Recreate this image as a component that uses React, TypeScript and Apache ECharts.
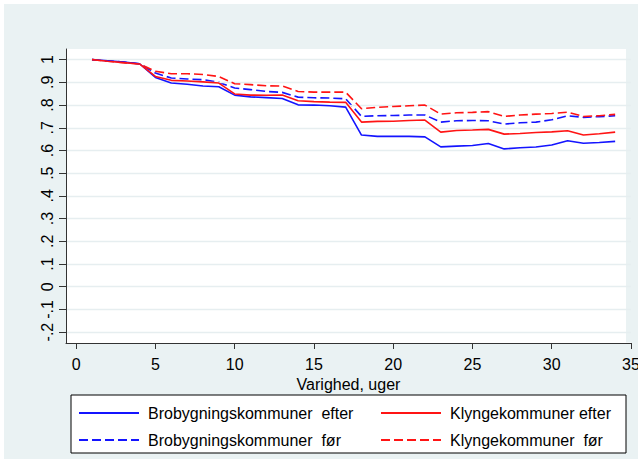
import React, { useEffect, useRef } from "react";
import * as echarts from "echarts";

const weeks = [1,2,3,4,5,6,7,8,9,10,11,12,13,14,15,16,17,18,19,20,21,22,23,24,25,26,27,28,29,30,31,32,33,34];

const broEfter = [1.0,0.995,0.989,0.982,0.922,0.897,0.892,0.884,0.881,0.844,0.836,0.833,0.829,0.801,0.800,0.797,0.791,0.668,0.662,0.662,0.662,0.660,0.616,0.619,0.622,0.631,0.607,0.612,0.615,0.624,0.643,0.632,0.635,0.640];
const klyEfter = [1.0,0.993,0.987,0.981,0.926,0.909,0.906,0.902,0.897,0.849,0.844,0.843,0.844,0.819,0.815,0.813,0.812,0.725,0.728,0.729,0.732,0.734,0.681,0.688,0.690,0.693,0.672,0.675,0.679,0.682,0.687,0.668,0.674,0.681];
const broFoer = [1.0,0.995,0.989,0.982,0.941,0.919,0.915,0.912,0.900,0.875,0.868,0.860,0.856,0.835,0.832,0.831,0.828,0.750,0.753,0.754,0.756,0.756,0.725,0.731,0.732,0.731,0.716,0.722,0.725,0.735,0.753,0.746,0.749,0.753];
const klyFoer = [1.0,0.993,0.987,0.981,0.949,0.938,0.938,0.935,0.926,0.894,0.890,0.885,0.884,0.860,0.857,0.857,0.857,0.784,0.790,0.794,0.797,0.800,0.760,0.766,0.768,0.771,0.750,0.756,0.760,0.763,0.769,0.750,0.753,0.759];

const yTicks = [-0.2,-0.1,0,0.1,0.2,0.3,0.4,0.5,0.6,0.7,0.8,0.9,1];
const xTicks = [0,5,10,15,20,25,30,35];

const names = [
  "Brobygningskommuner  efter",
  "Klyngekommuner efter",
  "Brobygningskommuner  før",
  "Klyngekommuner  før",
];

const FONT = "'Liberation Sans', Arial, sans-serif";
const BG = "#eaf2f3";

function fmtY(v: number): string {
  const r = Math.round(v * 10) / 10;
  if (r === 0) return "0";
  if (r === 1) return "1";
  const s = Math.abs(r).toFixed(1).replace(/^0/, "");
  return (r < 0 ? "-" : "") + s;
}

export default function App() {
  const ref = useRef<HTMLDivElement>(null);
  useEffect(() => {
    if (!ref.current) return;
    const chart = echarts.init(ref.current, undefined, { renderer: "svg" });
    const mk = (arr: number[]) => weeks.map((w, i) => [w, arr[i]]);
    const lineSeries = (name: string, arr: number[], color: string, dashed: boolean, z: number) => ({
      name,
      type: "line",
      data: mk(arr),
      symbol: "none",
      z,
      lineStyle: { color, width: 1.6, type: dashed ? [9, 4] : "solid" },
      itemStyle: { color },
    });
    const legendBase = {
      orient: "vertical",
      top: 401,
      padding: 0,
      itemWidth: 60,
      itemHeight: 16,
      itemGap: 11,
      z: 5,
      itemStyle: { opacity: 0 },
      textStyle: { fontSize: 16, color: "#000", fontFamily: FONT, padding: [0, 0, 0, 4] },
    };
    chart.setOption({
      animation: false,
      backgroundColor: BG,
      textStyle: { fontFamily: FONT },
      grid: {
        left: 62,
        top: 45,
        right: 7,
        bottom: 116,
        outerBoundsMode: "none",
        containLabel: false,
        show: true,
        backgroundColor: "#ffffff",
        borderWidth: 0,
      },
      xAxis: {
        type: "value",
        min: -0.64,
        max: 35,
        z: 3,
        name: "Varighed, uger",
        nameLocation: "middle",
        nameGap: 30,
        nameTextStyle: { fontSize: 16, color: "#000", fontFamily: FONT },
        axisLine: { onZero: false, lineStyle: { color: "#333", width: 1 } },
        axisTick: { show: true, length: 6, customValues: xTicks, lineStyle: { color: "#333" } },
        axisLabel: { customValues: xTicks, fontSize: 16, color: "#000", margin: 13, fontFamily: FONT },
        splitLine: { show: false },
      },
      yAxis: {
        type: "value",
        min: -0.248,
        max: 1.047,
        z: 3,
        axisLine: { show: true, onZero: false, lineStyle: { color: "#333", width: 1 } },
        axisTick: { show: true, length: 7, customValues: yTicks, lineStyle: { color: "#333" } },
        axisLabel: {
          customValues: yTicks,
          rotate: 90,
          fontSize: 16,
          color: "#000",
          margin: 11,
          fontFamily: FONT,
          formatter: (v: number) => fmtY(v),
        },
        splitLine: { show: true, lineStyle: { color: "#e6eef0", width: 1.3 } },
      },
      graphic: [
        {
          type: "rect",
          z: 1,
          silent: true,
          shape: { x: 622, y: 44, width: 6, height: 294.5 },
          style: { fill: BG },
        },
        {
          type: "rect",
          z: 1,
          shape: { x: 67, y: 391, width: 555, height: 58 },
          style: { fill: "#ffffff", stroke: "#000000", lineWidth: 1 },
        },
      ],
      legend: [
        { ...legendBase, data: [names[0], names[2]], left: 74 },
        { ...legendBase, data: [names[1], names[3]], left: 376 },
      ],
      series: [
        lineSeries(names[0], broEfter, "#1414ff", false, 4),
        lineSeries(names[1], klyEfter, "#ff1414", false, 5),
        lineSeries(names[2], broFoer, "#1414ff", true, 2),
        lineSeries(names[3], klyFoer, "#ff1414", true, 3),
      ],
    });
    return () => chart.dispose();
  }, []);
  return (
    <div style={{ position: "absolute", left: 0, top: 0, width: 638, height: 463, background: "#ffffff" }}>
      <div ref={ref} style={{ position: "absolute", left: 4, top: 4, width: 634, height: 455 }} />
    </div>
  );
}
